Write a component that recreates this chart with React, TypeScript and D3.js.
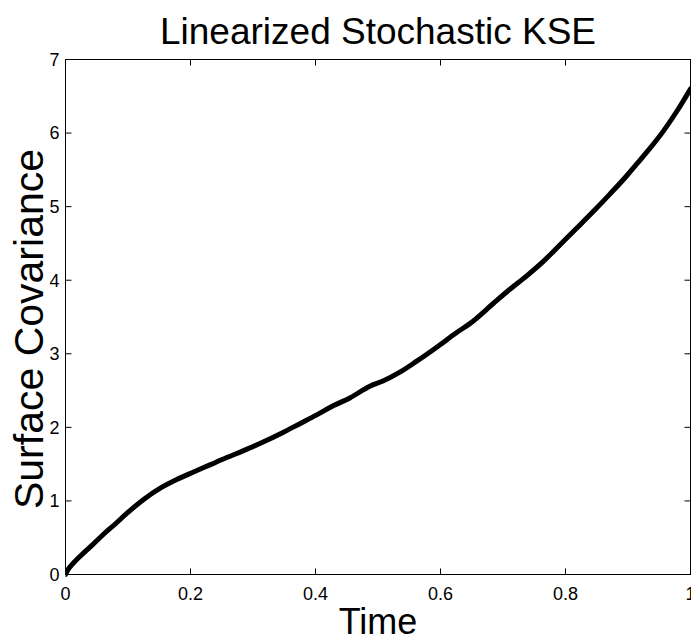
import React from "react";
import * as d3 from "d3";

const timeValues = [0, 0.005, 0.01, 0.02, 0.03, 0.044, 0.06, 0.08, 0.098, 0.125, 0.151, 0.178, 0.204, 0.231, 0.258, 0.284, 0.311, 0.348, 0.375, 0.402, 0.43, 0.455, 0.487, 0.508, 0.535, 0.562, 0.594, 0.626, 0.647, 0.684, 0.71, 0.738, 0.765, 0.791, 0.817, 0.844, 0.871, 0.898, 0.914, 0.93, 0.956, 0.98, 1.0];
const covValues = [0, 0.08, 0.13, 0.22, 0.30, 0.41, 0.54, 0.69, 0.83, 1.02, 1.17, 1.29, 1.39, 1.49, 1.59, 1.68, 1.78, 1.93, 2.05, 2.17, 2.30, 2.40, 2.56, 2.63, 2.75, 2.90, 3.09, 3.29, 3.41, 3.68, 3.87, 4.06, 4.26, 4.48, 4.70, 4.93, 5.17, 5.42, 5.58, 5.74, 6.02, 6.32, 6.60];
const xTicks = [0, 0.2, 0.4, 0.6, 0.8, 1];
const xTickLabels = ["0", "0.2", "0.4", "0.6", "0.8", "1"];
const yTicks = [0, 1, 2, 3, 4, 5, 6, 7];
const yTickLabels = ["0", "1", "2", "3", "4", "5", "6", "7"];
const titleText = "Linearized Stochastic KSE";
const xLabelText = "Time";
const yLabelText = "Surface Covariance";

export default function App() {
  const W = 691, H = 641;
  const left = 65.5, right = 690.5, top = 59.5, bottom = 574.5;
  const x = d3.scaleLinear().domain([0, 1]).range([left, right]);
  const y = d3.scaleLinear().domain([0, 7]).range([bottom, top]);
  const pts = timeValues.map((t, i) => [t, covValues[i]] as [number, number]);
  const line = d3.line<[number, number]>().x(d => x(d[0])).y(d => y(d[1])).curve(d3.curveMonotoneX);
  const font = "'Liberation Sans', Arial, Helvetica, sans-serif";
  const tl = 6;
  return (
    <svg width={W} height={H} style={{ position: "absolute", left: 0, top: 0, background: "#fff" }} fontFamily={font}>
      <rect x={0} y={0} width={W} height={H} fill="#fff" />
      <defs>
        <clipPath id="plotclip">
          <rect x={left} y={top - 5} width={right - left + 5} height={bottom - top + 10} />
        </clipPath>
      </defs>
      <path d={line(pts) || ""} fill="none" stroke="#000" strokeWidth={5} strokeLinejoin="round" strokeLinecap="round" clipPath="url(#plotclip)" />
      <rect x={left} y={top} width={right - left} height={bottom - top} fill="none" stroke="#000" strokeWidth={1} />
      {xTicks.map((t, i) => (
        <g key={"xt" + i}>
          <line x1={x(t)} x2={x(t)} y1={bottom} y2={bottom - tl} stroke="#000" />
          <line x1={x(t)} x2={x(t)} y1={top} y2={top + tl} stroke="#000" />
          <text x={x(t)} y={600} textAnchor="middle" fontSize={18} fill="#000">{xTickLabels[i]}</text>
        </g>
      ))}
      {yTicks.map((v, i) => (
        <g key={"yt" + i}>
          <line x1={left} x2={left + tl} y1={y(v)} y2={y(v)} stroke="#000" />
          <line x1={right} x2={right - tl} y1={y(v)} y2={y(v)} stroke="#000" />
          <text x={left - 6} y={y(v)} dy="0.35em" textAnchor="end" fontSize={18} fill="#000">{yTickLabels[i]}</text>
        </g>
      ))}
      <text x={(left + right) / 2} y={44} textAnchor="middle" fontSize={37} fill="#000">{titleText}</text>
      <text x={(left + right) / 2} y={634} textAnchor="middle" fontSize={36} fill="#000">{xLabelText}</text>
      <text transform={`translate(43,329) rotate(-90)`} textAnchor="middle" fontSize={41} fill="#000">{yLabelText}</text>
    </svg>
  );
}
